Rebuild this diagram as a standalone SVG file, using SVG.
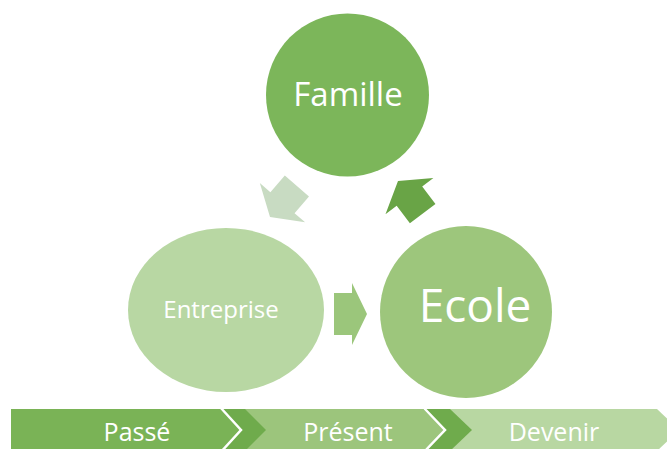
<svg xmlns="http://www.w3.org/2000/svg" width="667" height="449" viewBox="0 0 667 449">
<style>
.lbl{font-family:"Open Sans","Liberation Sans",sans-serif;fill:#ffffff;text-anchor:middle}
.sep{fill:none;stroke:#ffffff;stroke-width:2.5}
</style>
<defs>
<polygon id="arrowS" points="0,0 -15,-31 -15,-21 -33,-21 -33,21 -15,21 -15,31"/>
<polygon id="arrowR" points="0,0 -19,-30 -19,-16 -41,-16 -41,16 -19,16 -19,30"/>
</defs>
<rect width="667" height="449" fill="#ffffff"/>
<g id="connectors">
<use href="#arrowR" transform="translate(270,217) rotate(131)" fill="#c8dbc2"/>
<use href="#arrowS" transform="translate(367,314)" fill="#9bc67b"/>
<use href="#arrowR" transform="translate(398,181) rotate(-127)" fill="#69a446"/>
</g>
<g id="famille">
<circle cx="347.5" cy="95" r="81.5" fill="#7cb65a"/>
<text class="lbl" x="348" y="106" font-size="33">Famille</text>
</g>
<g id="entreprise">
<ellipse cx="226" cy="310" rx="98" ry="82" fill="#b8d7a3"/>
<text class="lbl" x="221" y="318" font-size="24">Entreprise</text>
</g>
<g id="ecole">
<circle cx="466" cy="312" r="86" fill="#9dc67c"/>
<text class="lbl" x="475" y="322" font-size="46">Ecole</text>
</g>
<g id="timeline">
<polygon points="430,409 657,409 679,430 657,451 430,451" fill="#b8d7a2"/>
<polygon points="405,409 450,409 472,430 450,451 405,451" fill="#6fab4c"/>
<polygon points="230,409 423,409 445,430 423,451 230,451" fill="#9cc57c"/>
<polyline class="sep" points="423,407 445,430 423,453"/>
<polygon points="200,409 245,409 266,430 245,451 200,451" fill="#6fab4c"/>
<polygon points="11,409 220,409 241,430 220,451 11,451" fill="#7ab356"/>
<polyline class="sep" points="220,407 241,430 220,453"/>
<text class="lbl" x="137" y="441" font-size="25">Passé</text>
<text class="lbl" x="348" y="441" font-size="25">Présent</text>
<text class="lbl" x="554" y="441" font-size="25">Devenir</text>
</g>
</svg>
